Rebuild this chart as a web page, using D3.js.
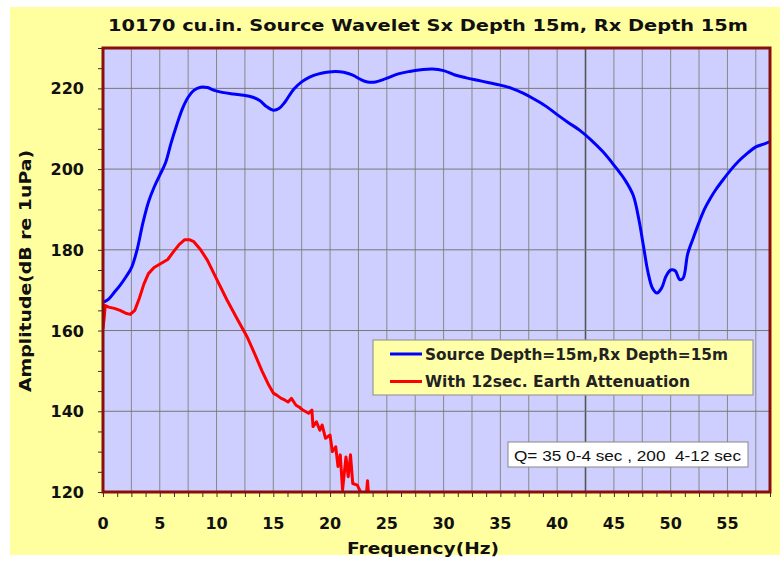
<!DOCTYPE html>
<html><head><meta charset="utf-8">
<script src="https://cdn.jsdelivr.net/npm/d3@7"></script>
<style>body{margin:0;background:#fff}svg{display:block}</style>
</head><body>
<svg id="c" width="780" height="563"></svg>
<script>
const title = "10170 cu.in. Source Wavelet Sx Depth 15m, Rx Depth 15m";
const xLabel = "Frequency(Hz)";
const yLabel = "Amplitude(dB re 1uPa)";
const seriesNames = ["Source Depth=15m,Rx Depth=15m", "With 12sec. Earth Attenuation"];
const note = "Q= 35 0-4 sec , 200  4-12 sec";
const xTickLabels = [0,5,10,15,20,25,30,35,40,45,50,55];
const yTickLabels = [120,140,160,180,200,220];

const sourceFreq = [0,0.5,1,1.5,2,2.5,3,3.5,4,4.5,5,5.5,6,6.5,7,7.5,8,8.6,9.2,9.8,10.5,11.5,12.4,13.2,13.8,14.4,15,15.5,16,16.8,17.5,18.2,19,19.7,20.5,21.2,22,22.7,23.3,24,24.9,26,27,28,29,30,31,32,33,34,35,36,37,38,39,40,41,42,43,44,45,46,46.7,47.2,47.6,48,48.4,48.8,49.2,49.6,50,50.4,50.8,51.1,51.5,52,52.5,53,53.5,54,54.6,55.3,56,56.8,57.5,58.2,58.75];
const sourceAmp = [167,167.8,169.5,171.2,173.2,175.5,180,186.5,191.8,195.5,198.5,201.5,206.5,211,215,217.8,219.5,220.3,220.2,219.5,219,218.6,218.3,217.8,217,215.5,214.6,215,216.5,219.8,221.6,222.8,223.6,224,224.2,224,223.3,222.2,221.6,221.6,222.4,223.6,224.2,224.6,224.8,224.4,223.3,222.6,222,221.4,220.8,220,218.8,217.3,215.6,213.5,211.5,209.6,207.2,204.4,201,197.2,193.5,187.5,181,174.5,170.5,169.3,170.5,173.5,175,174.8,172.6,173,179,183,186.8,190.2,192.8,195,197.3,199.8,202,204,205.5,206.2,206.8];

const attenFreq = [0,0.1,0.2,0.5,1,1.5,2,2.4,2.8,3.2,3.6,4,4.5,5.1,5.7,6.2,6.7,7.2,7.6,8,8.6,9.2,10,10.9,11.8,12.7,13.4,14,14.6,15,15.3,15.7,16,16.3,16.6,17,17.3,17.6,18.1,18.4,18.5,18.8,19.1,19.3,19.6,20,20.2,20.5,20.7,20.9,21.1,21.4,21.6,21.8,22,22.4,22.6,22.9,23.2,23.3,23.4];
const attenAmp = [160.5,163,166.2,165.8,165.5,165,164.3,164,165,168,171.5,174.1,175.6,176.6,177.6,179.5,181.3,182.5,182.5,182,180,177.4,172.8,167.7,163,158.4,154,150,146.5,144.5,144,143.2,142.8,142.3,143.2,141.5,141,140.3,139.5,140.3,136.2,137.4,135.3,136.6,133.3,134.1,130,131.2,126.3,129.2,120.5,128.7,123.8,129.2,122.1,121.7,120.5,119,119.5,122.8,119];

const svg = d3.select("#c");
const L = 103, R = 770, T = 48, B = 492;
const x = d3.scaleLinear().domain([0, 58.75]).range([L, R]);
const y = d3.scaleLinear().domain([120, 230]).range([B, T]);
const F = "'DejaVu Sans', Arial, sans-serif";

// backgrounds
svg.append("rect").attr("x",10).attr("y",7).attr("width",770).attr("height",548).attr("fill","#FFFFA0");
svg.append("rect").attr("x",L).attr("y",T).attr("width",R-L).attr("height",B-T).attr("fill","#CFCFFF");

svg.append("text").attr("x",428).attr("y",31).attr("text-anchor","middle")
  .attr("font-family",F).attr("font-weight","bold").attr("font-size",15)
  .attr("textLength",640).attr("lengthAdjust","spacingAndGlyphs").attr("fill","#111").text(title);

// grid
const xGrid = d3.range(0, 58.7, 2.5);
svg.append("g").selectAll("line").data(xGrid).join("line")
  .attr("x1",d=>x(d)).attr("x2",d=>x(d)).attr("y1",T).attr("y2",B)
  .attr("stroke", d=> d===42.5 ? "#555" : "#888").attr("stroke-width", d=> d===42.5 ? 1.6 : 1);
svg.append("g").selectAll("line").data(yTickLabels.slice(1)).join("line")
  .attr("x1",L).attr("x2",R).attr("y1",d=>y(d)).attr("y2",d=>y(d))
  .attr("stroke","#777").attr("stroke-width",1);

// axes
const xAxis = d3.axisBottom(x).tickValues(d3.range(0, 58.76, 1.25)).tickSize(5).tickFormat("");
const gx = svg.append("g").attr("transform",`translate(0,${B})`).call(xAxis);
gx.select(".domain").remove();
gx.selectAll("line").attr("stroke","#333");
svg.append("g").selectAll("text").data(xTickLabels).join("text")
  .attr("x",d=>x(d)).attr("y",529).attr("text-anchor","middle")
  .attr("font-family",F).attr("font-weight","bold").attr("font-size",16).attr("fill","#111").text(d=>d);

const yAxis = d3.axisLeft(y).tickValues(d3.range(120, 230.1, 5)).tickSize(5).tickFormat("");
const gy = svg.append("g").attr("transform",`translate(${L},0)`).call(yAxis);
gy.select(".domain").remove();
gy.selectAll("line").attr("stroke","#333");
svg.append("g").selectAll("text").data(yTickLabels).join("text")
  .attr("x",84).attr("y",d=>y(d)+6).attr("text-anchor","end")
  .attr("font-family",F).attr("font-weight","bold").attr("font-size",16).attr("fill","#111").text(d=>d);

svg.append("text").attr("x",423).attr("y",554).attr("text-anchor","middle")
  .attr("font-family",F).attr("font-weight","bold").attr("font-size",16)
  .attr("textLength",152).attr("lengthAdjust","spacingAndGlyphs").attr("fill","#111").text(xLabel);
svg.append("text").attr("transform","translate(31,271) rotate(-90)").attr("text-anchor","middle")
  .attr("font-family",F).attr("font-weight","bold").attr("font-size",16)
  .attr("textLength",242).attr("lengthAdjust","spacingAndGlyphs").attr("fill","#111").text(yLabel);

// lines
svg.append("clipPath").attr("id","clip").append("rect").attr("x",L).attr("y",T).attr("width",R-L).attr("height",B-T);
const line = d3.line().x(d=>x(d[0])).y(d=>y(d[1]));
svg.append("path").datum(sourceFreq.map((f,i)=>[f,sourceAmp[i]]))
  .attr("d", line.curve(d3.curveCatmullRom)).attr("fill","none").attr("stroke","#0000FF").attr("stroke-width",3)
  .attr("clip-path","url(#clip)");
svg.append("path").datum(attenFreq.map((f,i)=>[f,attenAmp[i]]))
  .attr("d", d3.line().x(d=>x(d[0])).y(d=>y(d[1])).curve(d3.curveLinear)).attr("fill","none").attr("stroke","#FF0000").attr("stroke-width",3)
  .attr("stroke-linejoin","round").attr("clip-path","url(#clip)");

// frame
svg.append("rect").attr("x",L).attr("y",T).attr("width",R-L).attr("height",B-T)
  .attr("fill","none").attr("stroke","#8A0E0E").attr("stroke-width",3);

// legend
const lg = svg.append("g");
lg.append("rect").attr("x",373).attr("y",340).attr("width",380).attr("height",55)
  .attr("fill","#FFFFA8").attr("stroke","#999").attr("stroke-width",1.2);
const colors = ["#0000FF","#FF0000"];
const lens = [303, 265];
seriesNames.forEach((n,i)=>{
  const yy = 354 + i*27.5;
  lg.append("line").attr("x1",390).attr("x2",422).attr("y1",yy).attr("y2",yy).attr("stroke",colors[i]).attr("stroke-width",3);
  lg.append("text").attr("x",425).attr("y",yy+5.5).attr("font-family",F).attr("font-weight","bold")
    .attr("font-size",15).attr("textLength",lens[i]).attr("lengthAdjust","spacingAndGlyphs").attr("fill","#222").text(n);
});

// note box
svg.append("rect").attr("x",508).attr("y",442).attr("width",240).attr("height",25)
  .attr("fill","#FFFFFF").attr("stroke","#888").attr("stroke-width",1);
svg.append("text").attr("x",514).attr("y",461).attr("font-family","'Liberation Sans Narrow','Liberation Sans',Arial,sans-serif")
  .attr("xml:space","preserve").style("white-space","pre")
  .attr("font-size",15).attr("textLength",227).attr("lengthAdjust","spacingAndGlyphs").attr("fill","#111").text(note);
</script>
</body></html>
